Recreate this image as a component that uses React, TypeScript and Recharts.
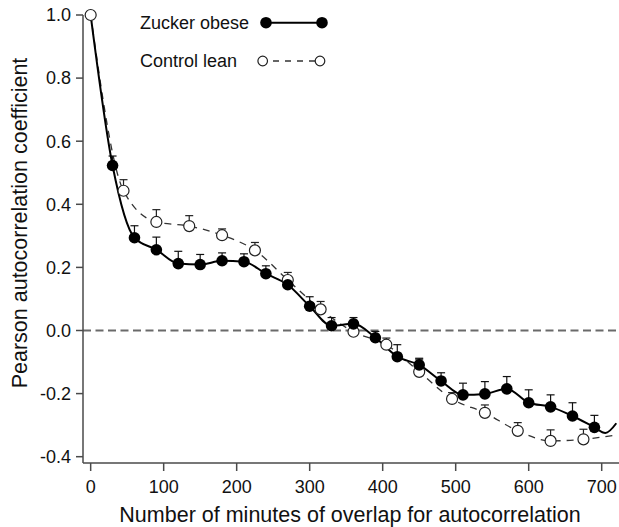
import React from 'react';
import {
  ComposedChart,
  Line,
  XAxis,
  YAxis,
  ReferenceLine,
  ErrorBar
} from 'recharts';

// minutes of overlap (markers: obese every 30 min, lean every 45 min)
const obeseMinutes = [0, 30, 60, 90, 120, 150, 180, 210, 240, 270, 300, 330, 360, 390, 420, 450, 480, 510, 540, 570, 600, 630, 660, 690, 705, 720];
const obeseValues = [1.0, 0.523, 0.294, 0.256, 0.212, 0.209, 0.221, 0.218, 0.18, 0.145, 0.077, 0.015, 0.021, -0.023, -0.083, -0.109, -0.16, -0.204, -0.201, -0.185, -0.229, -0.242, -0.271, -0.307, -0.325, -0.294];
const obeseErrors = [null, 0.03, 0.038, 0.04, 0.039, 0.032, 0.025, 0.025, 0.025, 0.02, 0.03, 0.026, 0.02, 0.02, 0.038, 0.021, 0.026, 0.037, 0.039, 0.039, 0.041, 0.038, 0.042, 0.038, null, null];
const obeseMarked = [false, true, true, true, true, true, true, true, true, true, true, true, true, true, true, true, true, true, true, true, true, true, true, true, false, false];

const leanMinutes = [0, 45, 90, 135, 180, 225, 270, 315, 360, 405, 450, 495, 540, 585, 630, 675, 720];
const leanValues = [1.0, 0.443, 0.344, 0.331, 0.302, 0.254, 0.16, 0.067, -0.004, -0.045, -0.131, -0.217, -0.261, -0.318, -0.35, -0.345, -0.331];
const leanErrors = [null, 0.035, 0.039, 0.033, 0.02, 0.025, 0.024, 0.025, 0.02, 0.021, 0.04, 0.02, 0.025, 0.026, 0.035, 0.032, null];
const leanMarked = [true, true, true, true, true, true, true, true, true, true, true, true, true, true, true, true, false];

const xTicks = [0, 100, 200, 300, 400, 500, 600, 700];
const yTicks = [-0.4, -0.2, 0.0, 0.2, 0.4, 0.6, 0.8, 1.0];

type Row = {
  minute: number;
  obese?: number | null;
  obeseErr?: number[] | null;
  obeseDot?: boolean;
  lean?: number | null;
  leanErr?: number[] | null;
  leanDot?: boolean;
};

const buildRows = (): Row[] => {
  const map = new Map<number, Row>();
  const get = (m: number) => {
    if (!map.has(m)) map.set(m, { minute: m, obese: null, lean: null, obeseErr: null, leanErr: null });
    return map.get(m)!;
  };
  obeseMinutes.forEach((m, i) => {
    const r = get(m);
    r.obese = obeseValues[i];
    r.obeseErr = obeseErrors[i] == null ? null : [0, obeseErrors[i] as number];
    r.obeseDot = obeseMarked[i];
  });
  leanMinutes.forEach((m, i) => {
    const r = get(m);
    r.lean = leanValues[i];
    r.leanErr = leanErrors[i] == null ? null : [0, leanErrors[i] as number];
    r.leanDot = leanMarked[i];
  });
  return Array.from(map.values()).sort((a, b) => a.minute - b.minute);
};

const rows = buildRows();

const FONT = '"Liberation Sans", Arial, Helvetica, sans-serif';
const AXIS = '#4a4a4a';

const FilledDot = (props: any) => {
  const { cx, cy, payload, index } = props;
  if (cx == null || cy == null || !payload || !payload.obeseDot || payload.obese == null) {
    return <g key={`fd-${index}`} />;
  }
  return <circle key={`fd-${index}`} cx={cx} cy={cy} r={5.8} fill="#000" />;
};

const OpenDot = (props: any) => {
  const { cx, cy, payload, index } = props;
  if (cx == null || cy == null || !payload || !payload.leanDot || payload.lean == null) {
    return <g key={`od-${index}`} />;
  }
  return <circle key={`od-${index}`} cx={cx} cy={cy} r={5.5} fill="#fff" stroke="#222" strokeWidth={1.2} />;
};

export default function App() {
  return (
    <div style={{ position: 'absolute', left: 0, top: 0, width: 619, height: 527, background: '#fff' }}>
      <ComposedChart
        width={619}
        height={527}
        data={rows}
        margin={{ top: 15, right: 0, bottom: 0, left: 0 }}
      >
        <XAxis
          dataKey="minute"
          type="number"
          domain={[-10.5, 723.7]}
          ticks={xTicks}
          height={64}
          tickSize={8}
          tickMargin={9}
          stroke={AXIS}
          strokeWidth={1.5}
          tick={{ fill: '#111', fontSize: 18, fontFamily: FONT }}
        />
        <YAxis
          type="number"
          domain={[-0.42, 1.0]}
          ticks={yTicks}
          width={83}
          tickSize={7}
          tickMargin={5}
          stroke={AXIS}
          strokeWidth={1.5}
          tickFormatter={(v: number) => v.toFixed(1)}
          tick={{ fill: '#111', fontSize: 18, fontFamily: FONT }}
        />
        <ReferenceLine y={0} stroke="#6a6a6a" strokeWidth={1.8} strokeDasharray="8 4.5" />
        <Line
          dataKey="lean"
          type="monotone"
          connectNulls
          stroke="#333"
          strokeWidth={1.3}
          strokeDasharray="7 6"
          dot={OpenDot}
          activeDot={false}
          isAnimationActive={false}
        >
          <ErrorBar dataKey="leanErr" direction="y" width={4} stroke="#222" strokeWidth={1.2} />
        </Line>
        <Line
          dataKey="obese"
          type="monotone"
          connectNulls
          stroke="#000"
          strokeWidth={2}
          dot={FilledDot}
          activeDot={false}
          isAnimationActive={false}
        >
          <ErrorBar dataKey="obeseErr" direction="y" width={4} stroke="#111" strokeWidth={1.2} />
        </Line>
      </ComposedChart>
      <svg
        width={619}
        height={527}
        style={{ position: 'absolute', left: 0, top: 0, pointerEvents: 'none' }}
        fontFamily={FONT}
      >
        {/* legend */}
        <text x={140} y={29} fontSize={18} fill="#111">Zucker obese</text>
        <line x1={266} y1={22.7} x2={322} y2={22.7} stroke="#000" strokeWidth={2} />
        <circle cx={266} cy={22.7} r={5.8} fill="#000" />
        <circle cx={322} cy={22.7} r={5.8} fill="#000" />
        <text x={140} y={67} fontSize={18} fill="#111">Control lean</text>
        <line x1={268} y1={61} x2={315} y2={61} stroke="#333" strokeWidth={1.3} strokeDasharray="6 6" strokeDashoffset={-5} />
        <circle cx={262.7} cy={61} r={4.8} fill="#fff" stroke="#222" strokeWidth={1.2} />
        <circle cx={320} cy={61} r={4.8} fill="#fff" stroke="#222" strokeWidth={1.2} />
        {/* axis titles */}
        <text x={350} y={522} fontSize={21.5} textAnchor="middle" fill="#111">
          Number of minutes of overlap for autocorrelation
        </text>
        <text x={26.5} y={223} fontSize={21.5} textAnchor="middle" fill="#111" transform="rotate(-90 26.5 223)">
          Pearson autocorrelation coefficient
        </text>
      </svg>
    </div>
  );
}
